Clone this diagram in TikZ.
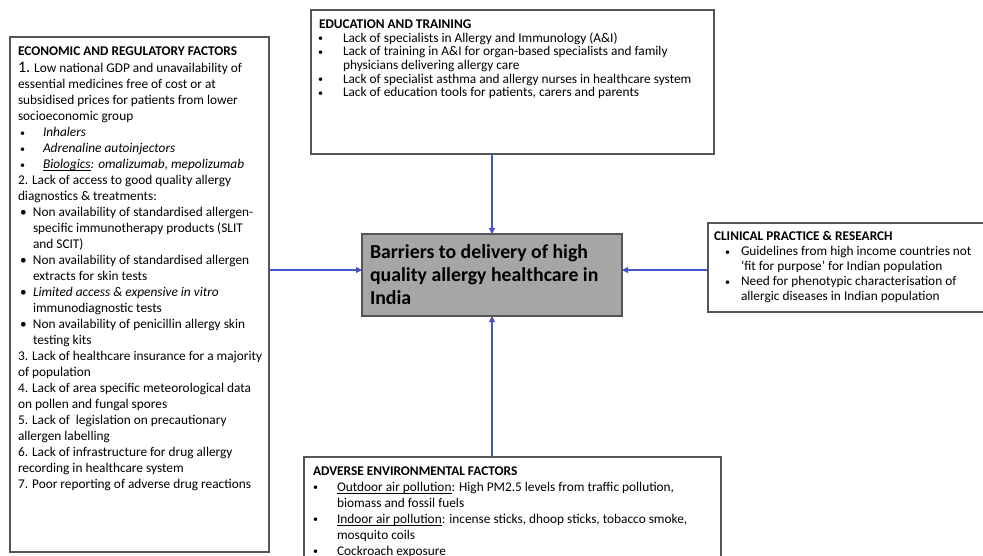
\documentclass[tikz,border=0pt]{standalone}
\usepackage{fontspec}
\setmainfont{Carlito}
\usetikzlibrary{arrows.meta}

\definecolor{frame}{RGB}{85,85,85}
\definecolor{corefill}{RGB}{166,166,166}
\definecolor{link}{RGB}{68,86,196}

% one line of text
\newcommand\tline[1]{\hbox{#1}}
% small bullet and regular bullet
\newcommand\sbul{{\fontsize{10}{10}\selectfont\raisebox{0.6pt}{•}}}
\newcommand\rbul{•}
% bulleted line: bullet glyph, bullet offset, bullet column width, text
\newcommand\bitem[4]{\hbox{\hspace*{#2}\makebox[#3][l]{#1}#4}}
% continuation line of a bulleted item
\newcommand\bcont[2]{\hbox{\hspace*{#1}#2}}
% underlined words
\newcommand\undl[1]{\setbox0\hbox{#1}\rlap{\rule[-1.6pt]{\wd0}{0.6pt}}\box0}

\tikzset{
  panel/.style={draw=frame, line width=1.3pt, inner sep=0pt, outer sep=0pt},
  corebox/.style={panel, fill=corefill},
  txt/.style={anchor=base west, inner sep=0pt, outer sep=0pt},
  arr/.style={draw=link, line width=1.2pt, -{Triangle[length=6pt,width=6pt]}},
}

\begin{document}
\begin{tikzpicture}[x=1pt,y=-1pt]
\clip (0,0) rectangle (983,556);
\fill[white] (0,0) rectangle (983,556);

% boxes
\node[panel, minimum width=259pt, minimum height=515pt] (econ) at (139.5,294.5) {};
\node[panel, minimum width=403pt, minimum height=144pt] (edu) at (512.5,82) {};
\node[panel, minimum width=292pt, minimum height=89pt] (clin) at (854,267.5) {};
\node[panel, minimum width=417pt, minimum height=113pt] (env) at (512.5,513.5) {};
\node[corebox, minimum width=260pt, minimum height=82pt] (core) at (492,275) {};

% centre text
\node[txt] (coretxt) at (370,258.5) {\fontsize{19.8}{23}\selectfont\bfseries
  \vtop{\tline{Barriers to delivery of high}
        \tline{quality allergy healthcare in}
        \tline{India}}};

% economic and regulatory factors
\node[txt] (econtxt) at (18,56) {\fontsize{13.33}{16}\selectfont
  \vtop{\tline{\bfseries ECONOMIC AND REGULATORY FACTORS}\vskip1pt
    \tline{{\fontsize{16}{16}\selectfont 1.} Low national GDP and unavailability of}
    \tline{essential medicines free of cost or at}
    \tline{subsidised prices for patients from lower}
    \tline{socioeconomic group}
    \bitem{\sbul}{2pt}{23pt}{\itshape Inhalers}
    \bitem{\sbul}{2pt}{23pt}{\itshape Adrenaline autoinjectors}
    \bitem{\sbul}{2pt}{23pt}{\itshape \undl{Biologics}: omalizumab, mepolizumab}
    \tline{2. Lack of access to good quality allergy}
    \tline{diagnostics \& treatments:}
    \bitem{\rbul}{2pt}{13pt}{Non availability of standardised allergen-}
    \bcont{15pt}{specific immunotherapy products (SLIT}
    \bcont{15pt}{and SCIT)}
    \bitem{\rbul}{2pt}{13pt}{Non availability of standardised allergen}
    \bcont{15pt}{extracts for skin tests}
    \bitem{\rbul}{2pt}{13pt}{\itshape Limited access \& expensive in vitro}
    \bcont{15pt}{immunodiagnostic tests}
    \bitem{\rbul}{2pt}{13pt}{Non availability of penicillin allergy skin}
    \bcont{15pt}{testing kits}
    \tline{3. Lack of healthcare insurance for a majority}
    \tline{of population}
    \tline{4. Lack of area specific meteorological data}
    \tline{on pollen and fungal spores}
    \tline{5. Lack of \ legislation on precautionary}
    \tline{allergen labelling}
    \tline{6. Lack of infrastructure for drug allergy}
    \tline{recording in healthcare system}
    \tline{7. Poor reporting of adverse drug reactions}}};

% education and training
\node[txt] (edutxt) at (318,28.5) {\fontsize{13.33}{13.7}\selectfont
  \vtop{\tline{\hspace*{1pt}\bfseries EDUCATION AND TRAINING}
    \bitem{\sbul}{0pt}{25pt}{Lack of specialists in Allergy and Immunology (A\&I)}
    \bitem{\sbul}{0pt}{25pt}{Lack of training in A\&I for organ-based specialists and family}
    \bcont{25pt}{physicians delivering allergy care}
    \bitem{\sbul}{0pt}{25pt}{Lack of specialist asthma and allergy nurses in healthcare system}
    \bitem{\sbul}{0pt}{25pt}{Lack of education tools for patients, carers and parents}}};

% clinical practice and research
\node[txt] (clintxt) at (714,241) {\fontsize{13.33}{14.9}\selectfont
  \vtop{\tline{\bfseries CLINICAL PRACTICE \& RESEARCH}
    \bitem{\sbul}{11pt}{16pt}{Guidelines from high income countries not}
    \bcont{27pt}{‘fit for purpose’ for Indian population}
    \bitem{\sbul}{11pt}{16pt}{Need for phenotypic characterisation of}
    \bcont{27pt}{allergic diseases in Indian population}}};

% adverse environmental factors
\node[txt] (envtxt) at (313,475.5) {\fontsize{13.33}{16}\selectfont
  \vtop{\tline{\bfseries ADVERSE ENVIRONMENTAL FACTORS}
    \bitem{\sbul}{0pt}{24pt}{\undl{Outdoor air pollution}: High PM2.5 levels from traffic pollution,}
    \bcont{24pt}{biomass and fossil fuels}
    \bitem{\sbul}{0pt}{24pt}{\undl{Indoor air pollution}: incense sticks, dhoop sticks, tobacco smoke,}
    \bcont{24pt}{mosquito coils}
    \bitem{\sbul}{0pt}{24pt}{Cockroach exposure}}};

% connectors
\coordinate (lvl) at (0,270);
\draw[arr] (econ.east |- lvl) -- (core.west |- lvl);
\draw[arr] (clin.west |- lvl) -- (core.east |- lvl);
\draw[arr] (edu.south -| core.north) -- (core.north);
\draw[arr] (env.north -| core.south) -- (core.south);
\end{tikzpicture}
\end{document}
